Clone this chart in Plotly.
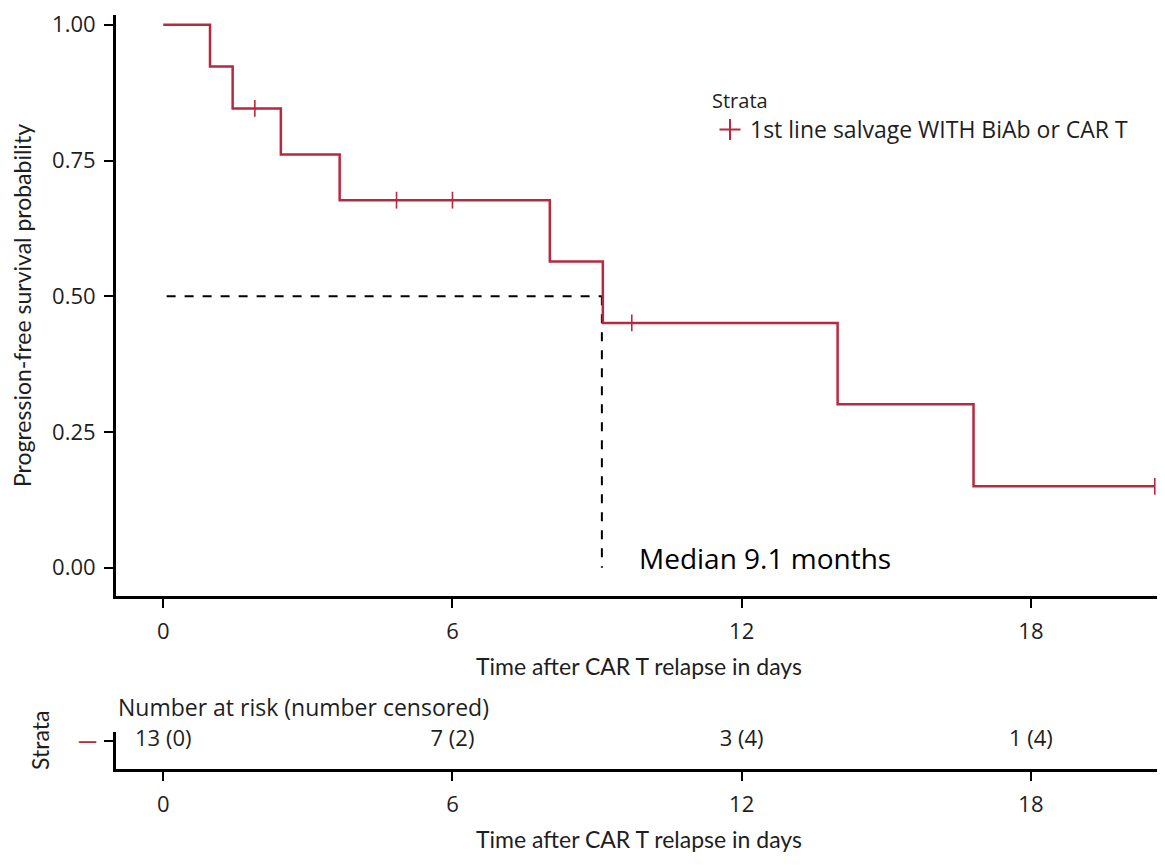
import plotly.graph_objects as go

# ---- data ----
step_times = [0, 0.97, 1.44, 2.44, 3.66, 8.02, 9.12, 13.99, 16.81, 20.57]
step_surv = [1.0, 0.923, 0.846, 0.761, 0.677, 0.564, 0.451, 0.301, 0.150, 0.150]
censor_times = [1.9, 4.84, 6.0, 9.72, 20.57]
censor_surv = [0.846, 0.677, 0.677, 0.451, 0.150]
median_time = 9.1
median_surv = 0.5
risk_times = [0, 6, 12, 18]
at_risk = [13, 7, 3, 1]
n_censored = [0, 2, 4, 4]
x_ticks = [0, 6, 12, 18]
y_ticks = [0.0, 0.25, 0.5, 0.75, 1.0]
y_ticklabels = ["0.00", "0.25", "0.50", "0.75", "1.00"]
strata_name = "1st line salvage WITH BiAb or CAR T"

RED = "#B8283F"
OFF = 8                      # page body margin
W, H = 1157, 857
def fx(p):
    return (p - OFF) / W
def fy(p):
    return 1 - (p - OFF) / H

TEXT = "#1e1e1e"
TICKFONT = dict(family="Open Sans, Lato, sans-serif", size=22, color=TEXT)
TITLEFONT = dict(family="Lato, sans-serif", size=23, color=TEXT)
BODYFONT = dict(family="Open Sans, Lato, sans-serif", size=23, color=TEXT)

fig = go.Figure()

# median dashed lines
fig.add_trace(go.Scatter(x=[0.07, median_time], y=[median_surv, median_surv], mode="lines",
                         line=dict(color="black", width=2, dash="dash"), showlegend=False,
                         xaxis="x", yaxis="y", hoverinfo="skip"))
fig.add_trace(go.Scatter(x=[median_time, median_time], y=[median_surv, 0], mode="lines",
                         line=dict(color="black", width=2, dash="dash"), showlegend=False,
                         xaxis="x", yaxis="y", hoverinfo="skip"))

# KM step curve
fig.add_trace(go.Scatter(x=step_times, y=step_surv, mode="lines", line_shape="hv",
                         line=dict(color=RED, width=2.5), showlegend=False,
                         xaxis="x", yaxis="y", cliponaxis=False))
# censor marks
fig.add_trace(go.Scatter(x=censor_times, y=censor_surv, mode="markers",
                         marker=dict(symbol="line-ns-open", size=12, color=RED,
                                     line=dict(color=RED, width=1.6)),
                         showlegend=False, xaxis="x", yaxis="y", cliponaxis=False))
# legend entry
fig.add_trace(go.Scatter(x=[None], y=[None], mode="markers", name=strata_name,
                         marker=dict(symbol="cross-thin-open", size=15, color=RED,
                                     line=dict(color=RED, width=2)),
                         showlegend=True, xaxis="x", yaxis="y"))

# risk table text
fig.add_trace(go.Scatter(x=risk_times, y=[0.76] * len(risk_times), mode="text",
                         text=[f"{a} ({c})" for a, c in zip(at_risk, n_censored)],
                         textfont=dict(family="Open Sans, Lato, sans-serif", size=22, color=TEXT),
                         textposition="middle center", showlegend=False,
                         xaxis="x2", yaxis="y2", hoverinfo="skip", cliponaxis=False))

axis_common = dict(showline=True, linecolor="black", linewidth=3, ticks="outside",
                   ticklen=9, tickwidth=2, tickcolor="black", showgrid=False, zeroline=False,
                   tickfont=TICKFONT)

fig.update_layout(
    width=W, height=H,
    margin=dict(l=0, r=0, t=0, b=0),
    plot_bgcolor="white", paper_bgcolor="white",
    xaxis=dict(domain=[fx(116), fx(1162)], range=[-0.98, 20.72], tickvals=x_ticks, anchor="y",
               ticklabelstandoff=5,
               title=dict(text="Time after CAR T relapse in days", font=TITLEFONT, standoff=15),
               automargin=False, **axis_common),
    yaxis=dict(domain=[fy(596), fy(15)], range=[-0.052, 1.018], tickvals=y_ticks,
               ticktext=y_ticklabels, anchor="x", ticklabelstandoff=4,
               title=dict(text="Progression-free survival probability", font=TITLEFONT, standoff=20),
               automargin=False, **axis_common),
    xaxis2=dict(domain=[fx(116), fx(1162)], range=[-0.98, 20.72], tickvals=x_ticks, anchor="y2",
                ticklabelstandoff=5,
                title=dict(text="Time after CAR T relapse in days", font=TITLEFONT, standoff=15),
                automargin=False, **axis_common),
    yaxis2=dict(domain=[fy(769), fy(732)], range=[0, 1], tickvals=[0.76],
                ticktext=["—"], anchor="x2", ticklabelstandoff=1,
                automargin=False,
                **{**axis_common, "tickfont": dict(family="Lato, sans-serif", size=26, color=RED)}),
    legend=dict(x=fx(710), y=fy(82), xanchor="left", yanchor="top",
                title=dict(text="Strata", font=dict(family="Open Sans, Lato, sans-serif", size=20, color=TEXT)),
                font=BODYFONT, bgcolor="rgba(0,0,0,0)"),
    annotations=[
        dict(text="Median 9.1 months", x=fx(637), y=fy(558), xref="paper", yref="paper",
             xanchor="left", yanchor="middle", showarrow=False,
             font=dict(family="Open Sans, Noto Sans, sans-serif", size=28, color="black")),
        dict(text="Number at risk (number censored)", x=fx(116), y=fy(707), xref="paper", yref="paper",
             xanchor="left", yanchor="middle", showarrow=False,
             font=dict(family="Open Sans, Lato, sans-serif", size=23, color=TEXT)),
        dict(text="Strata", x=fx(40), y=fy(741), xref="paper", yref="paper",
             xanchor="center", yanchor="middle", textangle=-90, showarrow=False,
             font=TITLEFONT),
    ],
)

fig.write_html("out.html")
